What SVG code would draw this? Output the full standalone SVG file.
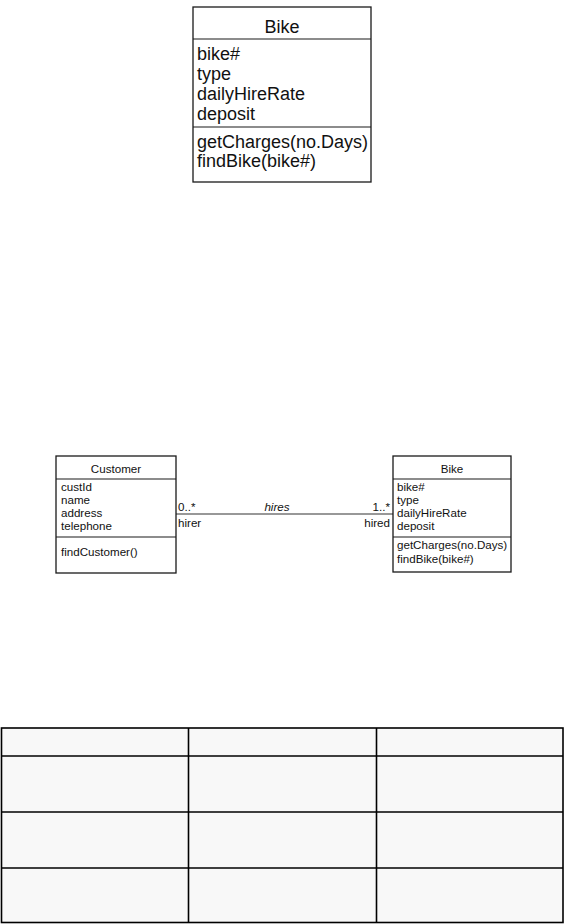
<svg xmlns="http://www.w3.org/2000/svg" width="565" height="924" viewBox="0 0 565 924">
<style>
.box{fill:#ffffff;stroke:#1a1a1a;stroke-width:1.3}
.sep{stroke:#1a1a1a;stroke-width:1.2}
.big{font-family:"Liberation Sans",Arial,sans-serif;font-size:18px;fill:#111}
.sm{font-family:"Liberation Sans",Arial,sans-serif;font-size:11.6px;fill:#111}
.conn{stroke:#333;stroke-width:1.1;fill:none}
.tbl{fill:none;stroke:#000;stroke-width:1.6}
</style>
<rect x="0" y="0" width="565" height="924" fill="#ffffff"/>
<g id="bike-large">
<rect class="box" x="193" y="7" width="178" height="175"/>
<line class="sep" x1="193" y1="39" x2="371" y2="39"/>
<line class="sep" x1="193" y1="127" x2="371" y2="127"/>
<text class="big" x="282" y="33" text-anchor="middle">Bike</text>
<text class="big" x="197" y="60">bike#</text>
<text class="big" x="197" y="80">type</text>
<text class="big" x="197" y="100">dailyHireRate</text>
<text class="big" x="197" y="120">deposit</text>
<text class="big" x="197" y="148">getCharges(no.Days)</text>
<text class="big" x="197" y="167">findBike(bike#)</text>
</g>
<g id="connectors">
<line class="conn" x1="176" y1="514" x2="393" y2="514"/>
<text class="sm" x="178" y="511">0..*</text>
<text class="sm" x="277" y="511" text-anchor="middle" font-style="italic">hires</text>
<text class="sm" x="390" y="511" text-anchor="end">1..*</text>
<text class="sm" x="178" y="527">hirer</text>
<text class="sm" x="390" y="527" text-anchor="end">hired</text>
</g>
<g id="customer">
<rect class="box" x="56" y="456" width="120" height="117"/>
<line class="sep" x1="56" y1="479" x2="176" y2="479"/>
<line class="sep" x1="56" y1="537" x2="176" y2="537"/>
<text class="sm" x="116" y="473" text-anchor="middle">Customer</text>
<text class="sm" x="61" y="491">custId</text>
<text class="sm" x="61" y="504">name</text>
<text class="sm" x="61" y="517">address</text>
<text class="sm" x="61" y="530">telephone</text>
<text class="sm" x="61" y="556">findCustomer()</text>
</g>
<g id="bike-small">
<rect class="box" x="393" y="456" width="118" height="116"/>
<line class="sep" x1="393" y1="479" x2="511" y2="479"/>
<line class="sep" x1="393" y1="537" x2="511" y2="537"/>
<text class="sm" x="452" y="473" text-anchor="middle">Bike</text>
<text class="sm" x="397" y="491">bike#</text>
<text class="sm" x="397" y="504">type</text>
<text class="sm" x="397" y="517">dailyHireRate</text>
<text class="sm" x="397" y="530">deposit</text>
<text class="sm" x="397" y="549">getCharges(no.Days)</text>
<text class="sm" x="397" y="562.5">findBike(bike#)</text>
</g>
<g id="table">
<rect x="1.5" y="728" width="561.5" height="195" fill="#f8f8f8" stroke="none"/>
<rect class="tbl" x="1.5" y="728" width="561.5" height="194.5"/>
<line class="tbl" x1="1.5" y1="756" x2="563" y2="756"/>
<line class="tbl" x1="1.5" y1="812" x2="563" y2="812"/>
<line class="tbl" x1="1.5" y1="868" x2="563" y2="868"/>
<line class="tbl" x1="188.5" y1="728" x2="188.5" y2="922.5"/>
<line class="tbl" x1="376.5" y1="728" x2="376.5" y2="922.5"/>
</g>
</svg>
